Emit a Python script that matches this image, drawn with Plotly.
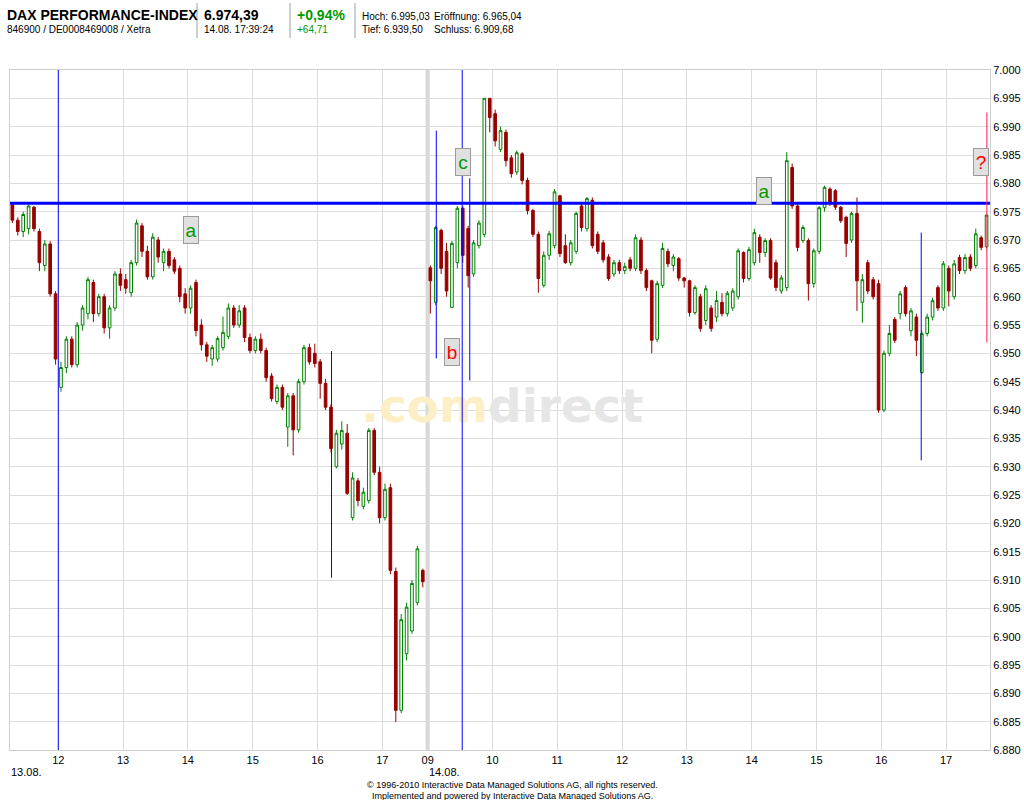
import plotly.graph_objects as go

# ------------------------------------------------------------------ data
# 5-minute candles, DAX Xetra, 13.08. (from 11:15) and 14.08.
d1_start, d1_count = "11:15", 77
d2_start, d2_count = "09:00", 104

d1_open = [6976.2, 6973.5, 6971.5, 6972.0, 6975.8, 6971.5, 6965.5, 6969.3, 6960.5,
           6944.0, 6947.5, 6952.5, 6948.0, 6955.0, 6957.0, 6962.5, 6957.0, 6960.0, 6954.5, 6958.0, 6964.0,
           6963.0, 6960.7, 6966.0, 6972.5, 6968.0, 6963.5, 6970.0, 6966.0, 6968.0, 6966.5, 6965.0, 6960.5,
           6958.0, 6962.5, 6955.0, 6951.5, 6949.0, 6949.0, 6951.0, 6953.0, 6958.0, 6955.0, 6958.0, 6952.8,
           6950.5, 6952.5, 6950.5, 6946.0, 6941.5, 6944.0, 6937.0, 6942.5, 6936.5, 6945.0, 6951.0, 6950.0,
           6948.5, 6944.7, 6940.5, 6930.0, 6934.0, 6935.9, 6921.0, 6927.5, 6923.0, 6924.0, 6936.4, 6929.0,
           6921.0, 6926.3, 6911.5, 6887.0, 6897.0, 6901.0, 6906.0, 6911.7]
d1_high = [6976.5, 6974.0, 6975.0, 6976.2, 6976.0, 6972.0, 6970.0, 6969.8, 6961.0,
           6948.5, 6953.0, 6953.0, 6955.5, 6958.5, 6963.5, 6963.0, 6960.5, 6960.5, 6958.5, 6964.5, 6965.0,
           6964.0, 6966.5, 6973.6, 6973.0, 6969.0, 6971.2, 6970.5, 6968.5, 6968.5, 6967.0, 6965.5, 6961.5,
           6962.0, 6963.0, 6956.0, 6952.0, 6951.5, 6953.0, 6956.5, 6958.8, 6958.5, 6958.5, 6958.5, 6953.5,
           6953.0, 6953.5, 6951.0, 6946.5, 6944.5, 6944.5, 6943.0, 6943.0, 6945.5, 6951.5, 6951.7, 6951.7,
           6949.0, 6945.5, 6941.0, 6936.5, 6938.0, 6937.5, 6929.0, 6928.0, 6926.3, 6936.8, 6936.8, 6930.0,
           6927.0, 6927.0, 6912.2, 6904.0, 6906.0, 6910.0, 6916.0, 6912.0]
d1_low = [6973.0, 6970.8, 6970.5, 6971.0, 6971.5, 6964.5, 6964.5, 6960.0, 6948.0,
          6943.2, 6946.5, 6947.5, 6947.5, 6954.0, 6956.0, 6955.5, 6956.5, 6953.5, 6952.6, 6957.5, 6961.0,
          6960.5, 6960.0, 6965.5, 6967.0, 6963.0, 6963.0, 6966.0, 6964.5, 6965.0, 6964.0, 6959.0, 6957.0,
          6957.0, 6953.0, 6950.5, 6948.5, 6947.8, 6948.5, 6950.5, 6952.5, 6954.5, 6954.5, 6952.0, 6950.0,
          6950.0, 6950.0, 6945.0, 6941.5, 6941.0, 6940.0, 6933.5, 6932.0, 6936.0, 6944.5, 6948.0, 6947.5,
          6942.0, 6940.0, 6932.5, 6929.7, 6933.0, 6925.0, 6920.5, 6923.0, 6922.5, 6923.5, 6928.5, 6920.0,
          6920.5, 6911.0, 6884.9, 6886.5, 6895.8, 6900.5, 6905.5, 6908.7]
d1_close = [6973.5, 6971.5, 6974.5, 6976.0, 6972.0, 6966.0, 6969.3, 6960.5, 6949.0,
            6947.5, 6952.5, 6948.0, 6955.0, 6958.0, 6963.0, 6957.0, 6960.0, 6954.5, 6958.0, 6964.0, 6962.0,
            6961.5, 6966.0, 6973.0, 6968.0, 6963.5, 6970.5, 6967.0, 6968.0, 6965.5, 6964.5, 6960.0, 6958.0,
            6961.5, 6954.0, 6951.5, 6949.5, 6951.0, 6952.6, 6953.7, 6958.0, 6955.0, 6957.5, 6952.8, 6950.5,
            6952.5, 6950.5, 6945.7, 6942.0, 6944.0, 6940.5, 6942.5, 6936.5, 6945.0, 6951.0, 6948.5, 6948.2,
            6944.7, 6940.5, 6933.2, 6935.9, 6936.4, 6925.3, 6928.0, 6924.0, 6925.5, 6936.4, 6929.0, 6921.0,
            6926.0, 6911.7, 6887.0, 6903.0, 6905.2, 6909.4, 6915.5, 6909.7]

d2_open = [6965.1, 6959.0, 6971.7, 6968.0, 6958.1, 6966.0, 6975.6, 6972.0, 6964.0, 6969.0, 6971.0, 6995.0,
           6992.3, 6986.0, 6989.0, 6984.5, 6982.0, 6985.2, 6980.5, 6975.2, 6971.0, 6962.0, 6967.3, 6969.0,
           6977.8, 6969.0, 6966.0, 6968.0, 6976.0, 6972.0, 6977.0, 6971.0, 6969.5, 6967.0, 6964.0, 6966.0,
           6964.6, 6966.5, 6965.0, 6970.0, 6964.6, 6962.8, 6952.5, 6962.0, 6968.0, 6965.5, 6966.7, 6963.3,
           6962.8, 6957.2, 6960.0, 6955.8, 6958.0, 6956.4, 6959.0, 6957.0, 6958.0, 6960.0, 6967.8, 6963.2,
           6966.0, 6970.5, 6967.8, 6969.9, 6966.0, 6961.0, 6961.6, 6982.8, 6976.0, 6969.9, 6969.9, 6962.3,
           6968.0, 6975.7, 6979.0, 6978.7, 6975.8, 6974.0, 6970.0, 6974.7, 6959.0, 6966.0, 6963.0, 6962.3,
           6940.0, 6950.0, 6956.0, 6957.0, 6961.6, 6954.0, 6956.4, 6946.6, 6953.5, 6956.4, 6961.6, 6958.0,
           6965.0, 6960.0, 6966.9, 6964.6, 6967.0, 6965.5, 6970.4, 6968.8]
d2_high = [6965.5, 6972.5, 6972.0, 6969.5, 6969.8, 6976.0, 6976.0, 6972.5, 6970.0, 6973.5, 6995.03, 6995.0,
           6993.0, 6990.0, 6989.5, 6985.0, 6985.8, 6985.5, 6981.0, 6975.5, 6971.5, 6968.0, 6971.6, 6979.0,
           6978.0, 6971.0, 6970.0, 6975.0, 6976.5, 6977.6, 6977.5, 6971.5, 6970.0, 6967.5, 6966.5, 6966.5,
           6966.0, 6967.0, 6971.0, 6970.5, 6965.0, 6963.0, 6962.8, 6969.5, 6968.5, 6967.5, 6967.0, 6963.5,
           6963.0, 6962.0, 6960.5, 6962.0, 6958.5, 6961.0, 6960.6, 6961.0, 6961.5, 6968.5, 6968.0, 6968.8,
           6972.0, 6971.0, 6970.3, 6970.3, 6966.5, 6963.8, 6985.5, 6983.5, 6976.5, 6972.6, 6970.3, 6968.5,
           6976.0, 6979.6, 6979.3, 6979.0, 6976.0, 6974.3, 6975.0, 6977.5, 6964.0, 6966.5, 6963.5, 6963.0,
           6950.5, 6955.0, 6956.4, 6961.0, 6962.0, 6958.0, 6957.0, 6954.0, 6957.0, 6959.8, 6962.0, 6966.3,
           6965.5, 6966.5, 6967.4, 6967.5, 6967.5, 6972.0, 6970.8, 6974.6]
d2_low = [6957.0, 6958.5, 6964.0, 6960.0, 6958.0, 6965.0, 6966.0, 6961.6, 6963.5, 6968.5, 6970.5, 6989.0,
          6986.5, 6985.5, 6983.0, 6981.0, 6981.5, 6979.8, 6974.5, 6970.5, 6960.7, 6961.6, 6966.5, 6968.5,
          6967.0, 6965.8, 6965.5, 6967.5, 6971.5, 6971.5, 6968.5, 6967.5, 6966.0, 6962.8, 6963.5, 6964.0,
          6964.0, 6964.5, 6964.5, 6964.0, 6961.0, 6950.0, 6952.0, 6961.5, 6965.2, 6964.5, 6962.8, 6961.6,
          6956.5, 6956.8, 6953.8, 6955.0, 6953.8, 6955.5, 6956.5, 6956.5, 6957.5, 6959.5, 6962.5, 6962.8,
          6965.5, 6966.0, 6967.0, 6963.0, 6961.0, 6960.5, 6961.0, 6975.5, 6968.0, 6969.5, 6959.3, 6961.6,
          6967.5, 6975.0, 6976.0, 6975.3, 6973.0, 6967.0, 6969.5, 6957.5, 6955.4, 6960.5, 6959.5, 6939.5,
          6939.6, 6949.5, 6951.8, 6956.0, 6956.5, 6953.0, 6949.5, 6946.4, 6953.0, 6955.8, 6957.5, 6957.5,
          6958.3, 6959.5, 6964.0, 6964.0, 6964.5, 6965.0, 6968.2, 6968.5]
d2_close = [6962.8, 6972.2, 6965.0, 6961.0, 6969.4, 6975.6, 6967.3, 6963.7, 6969.5, 6973.0, 6995.0, 6991.6,
            6987.5, 6989.3, 6984.0, 6981.7, 6985.4, 6980.5, 6975.2, 6971.0, 6963.2, 6967.3, 6971.1, 6978.5,
            6967.6, 6966.0, 6969.5, 6974.7, 6972.2, 6977.3, 6969.0, 6968.0, 6966.5, 6963.2, 6966.0, 6964.6,
            6965.3, 6965.0, 6970.4, 6964.6, 6961.6, 6952.3, 6962.3, 6968.5, 6965.8, 6967.0, 6963.3, 6962.8,
            6957.2, 6961.6, 6954.4, 6961.4, 6954.4, 6959.3, 6957.0, 6960.6, 6961.0, 6968.1, 6963.2, 6968.3,
            6971.3, 6967.8, 6969.9, 6963.3, 6961.6, 6963.3, 6984.0, 6976.0, 6968.7, 6972.2, 6962.3, 6968.1,
            6975.7, 6979.3, 6976.4, 6975.8, 6973.4, 6969.4, 6974.7, 6962.8, 6963.0, 6961.0, 6960.0, 6940.0,
            6950.0, 6953.5, 6952.3, 6960.5, 6957.0, 6957.5, 6952.3, 6953.5, 6956.4, 6959.3, 6958.0, 6965.8,
            6961.0, 6965.8, 6964.6, 6966.9, 6965.0, 6971.1, 6968.7, 6974.4]

resistance_level = 6976.5
tick_hours_d1 = [12, 13, 14, 15, 16, 17]
tick_hours_d2 = [9, 10, 11, 12, 13, 14, 15, 16, 17]
y_ticks = list(range(6880, 7001, 5))

# ------------------------------------------------------------------ helpers
DAY2_SHIFT = 8.70     # day 2 clock hours shifted so 09:00 directly follows day 1
STEP = 5 / 60.0
FONT = "Liberation Sans, Arial, sans-serif"


def clock(hhmm):
    h, m = hhmm.split(":")
    return int(h) + int(m) / 60.0


def xpos(day, hhmm):
    return clock(hhmm) + (DAY2_SHIFT if day == 2 else 0.0)


def candle_x(day, start, n):
    s = xpos(day, start)
    return [s + i * STEP + STEP / 2 for i in range(n)]


X0, X1 = 11.255, 26.378
W, H = 1024, 800
ML, MR, MT, MB = 10, 34, 70, 50


def px(xp):   # page pixel -> paper x
    return (xp - ML) / (W - ML - MR)


def py(yp):   # page pixel -> paper y
    return (H - MB - yp) / (H - MT - MB)


xs = candle_x(1, d1_start, d1_count) + candle_x(2, d2_start, d2_count)
opens = d1_open + d2_open
highs = d1_high + d2_high
lows = d1_low + d2_low
closes = d1_close + d2_close

fig = go.Figure()

# watermark (behind candles)
fig.add_trace(go.Scatter(
    x=[xpos(2, "10:09")], y=[6940.0], mode="text",
    text=['<b><span style="color:#fcefc6">.com</span><span style="color:#e6e6e6">direct</span></b>'],
    textfont=dict(size=47, family="DejaVu Sans, Liberation Sans, sans-serif"),
    hoverinfo="skip", showlegend=False))

fig.add_trace(go.Candlestick(
    x=xs, open=opens, high=highs, low=lows, close=closes,
    increasing=dict(line=dict(color="#008000", width=1), fillcolor="#ffffff"),
    decreasing=dict(line=dict(color="#990000", width=1), fillcolor="#990000"),
    whiskerwidth=0, hoverinfo="skip", showlegend=False))

# vertical marker lines drawn as line traces (blue, full height and short)
vlines = [(1, "12:00", 6880, 7000), (2, "09:32", 6880, 7000),
          (2, "09:08", 6949.1, 6989.3), (2, "09:39", 6945.2, 6980.9),
          (1, "16:13", 6910.4, 6950.4), (2, "16:37", 6931.1, 6971.3)]
for d, t, a, b in vlines:
    fig.add_trace(go.Scatter(x=[xpos(d, t), xpos(d, t)], y=[a, b], mode="lines",
                             line=dict(color="#0000ff", width=1), hoverinfo="skip", showlegend=False,
                             cliponaxis=False))

shapes = []
# day separator
shapes.append(dict(type="line", xref="x", yref="paper", x0=xpos(2, "09:00"), x1=xpos(2, "09:00"),
                   y0=0, y1=1, line=dict(color="#d6d6d6", width=4), layer="below"))
# horizontal resistance
shapes.append(dict(type="line", xref="paper", yref="y", x0=0, x1=1, y0=resistance_level,
                   y1=resistance_level, line=dict(color="#0000ff", width=3)))
# red vertical
shapes.append(dict(type="line", xref="x", yref="y", x0=xpos(2, "17:39") - 0.02, x1=xpos(2, "17:39") - 0.02,
                   y0=6951.9, y1=6992.5, line=dict(color="#ff1a4a", width=1)))

# header separators
for xp in [197, 290, 355]:
    shapes.append(dict(type="line", xref="paper", yref="paper", x0=px(xp), x1=px(xp),
                       y0=py(3), y1=py(38), line=dict(color="#a0a0a0", width=1)))

ann = []


def text(xp, yp, s, size=10, color="#000000", bold=False, anchor="left"):
    ann.append(dict(xref="paper", yref="paper", x=px(xp), y=py(yp), text=("<b>%s</b>" % s) if bold else s,
                    showarrow=False, xanchor=anchor, yanchor="middle",
                    font=dict(family=FONT, size=size, color=color)))


text(5, 15, "DAX PERFORMANCE-INDEX", 14, bold=True)
text(5, 30, "846900 / DE0008469008 / Xetra", 10)
text(202, 15, "6.974,39", 14, bold=True)
text(202, 30, "14.08. 17:39:24", 10)
text(295, 15, "+0,94%", 14, color="#009900", bold=True)
text(295, 30, "+64,71", 10, color="#009900")
text(360, 16, "Hoch: 6.995,03", 10)
text(432, 16, "Eröffnung: 6.965,04", 10)
text(360, 30, "Tief: 6.939,50", 10)
text(432, 30, "Schluss: 6.909,68", 10)
text(9, 772, "13.08.", 11)
text(427, 772, "14.08.", 11)
text(512, 785, "© 1996-2010 Interactive Data Managed Solutions AG, all rights reserved.", 9, anchor="center")
text(512, 796, "Implemented and powered by Interactive Data Managed Solutions AG.", 9, anchor="center")

# label boxes
for d, t, yv, s, c in [(1, "14:03", 6971.85, "a", "#009900"), (2, "09:33", 6983.7, "c", "#009900"),
                       (2, "09:23", 6950.15, "b", "#ff0000"), (2, "14:11", 6978.56, "a", "#009900"),
                       (2, "17:32", 6983.7, "?", "#ff0000")]:
    ann.append(dict(xref="x", yref="y", x=xpos(d, t), y=yv, text=s, showarrow=False,
                    xanchor="center", yanchor="middle", width=14, height=26, borderpad=0,
                    bgcolor="#e0e0e0", bordercolor="#9a9a9a", borderwidth=1,
                    font=dict(family=FONT, size=19, color=c)))

fig.update_layout(
    width=W, height=H, margin=dict(l=ML, r=MR, t=MT, b=MB, autoexpand=False),
    paper_bgcolor="#ffffff", plot_bgcolor="#ffffff",
    separators=",.", showlegend=False, boxgap=0.3, hovermode=False,
    shapes=shapes, annotations=ann,
    xaxis=dict(range=[X0, X1], rangeslider=dict(visible=False), automargin=False,
               tickvals=[float(h) for h in tick_hours_d1] + [h + DAY2_SHIFT for h in tick_hours_d2],
               ticktext=["%d" % h for h in tick_hours_d1] + ["%02d" % h for h in tick_hours_d2],
               showgrid=True, gridcolor="#dcdcdc", gridwidth=1, zeroline=False, showspikes=False,
               showline=True, linecolor="#cfcfcf", linewidth=1, mirror=True, ticks="",
               tickfont=dict(family=FONT, size=11, color="#000000")),
    yaxis=dict(range=[6880, 7000], side="right", tickvals=y_ticks, tickformat=",d", automargin=False,
               showgrid=True, gridcolor="#dcdcdc", gridwidth=1, zeroline=False, showspikes=False,
               showline=True, linecolor="#cfcfcf", linewidth=1, mirror=True, ticks="",
               tickfont=dict(family=FONT, size=11, color="#000000")),
)

fig.write_html("out.html", config={"displayModeBar": False},
               post_script="document.body.style.margin='0';document.body.style.padding='0';")
